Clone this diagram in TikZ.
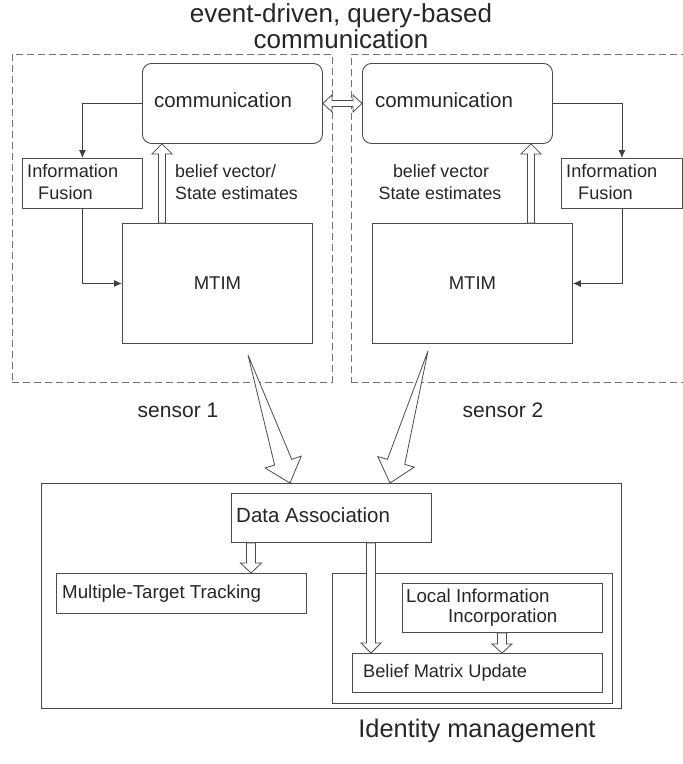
\documentclass[tikz,border=0pt]{standalone}
\usepackage{fontspec}
\setmainfont{Liberation Sans}
\usetikzlibrary{calc,arrows.meta}

\newcommand\fs[1]{\fontsize{#1pt}{#1pt}\selectfont}

% hollow block arrow: from, to, tail half width, shaft half width, head half width, head length
\newcommand\hollowarrow[6]{%
  \path ($(#2)!#6!(#1)$) coordinate (hbase);
  \draw[hollow] ($(#1)!#3!90:(#2)$) -- ($(hbase)!#4!90:(#2)$) -- ($(hbase)!#5!90:(#2)$)
    -- (#2) -- ($(hbase)!#5!-90:(#2)$) -- ($(hbase)!#4!-90:(#2)$) -- ($(#1)!#3!-90:(#2)$) -- cycle;
}
% hollow double-headed block arrow: end A, end B, shaft half width, head half width, head length
\newcommand\twowayarrow[5]{%
  \path ($(#1)!#5!(#2)$) coordinate (hbaseA);
  \path ($(#2)!#5!(#1)$) coordinate (hbaseB);
  \draw[hollow] (#1) -- ($(hbaseA)!#4!-90:(#2)$) -- ($(hbaseA)!#3!-90:(#2)$)
    -- ($(hbaseB)!#3!90:(#1)$) -- ($(hbaseB)!#4!90:(#1)$) -- (#2)
    -- ($(hbaseB)!#4!-90:(#1)$) -- ($(hbaseB)!#3!-90:(#1)$)
    -- ($(hbaseA)!#3!90:(#2)$) -- ($(hbaseA)!#4!90:(#2)$) -- cycle;
}

\tikzset{
  box/.style={draw=black!70, line width=0.9pt, rectangle, inner sep=0pt, anchor=north west},
  roundbox/.style={box, rounded corners=9pt},
  zone/.style={draw=black!55, line width=0.9pt, dash pattern=on 7pt off 4pt, rectangle, inner sep=0pt, anchor=north west},
  lbl/.style={inner sep=0pt, text=black!85, text height=0.72em, text depth=0pt, yshift=-1.5pt},
  flow/.style={draw=black!75, line width=0.9pt, -{Latex[length=8pt,width=7pt]}},
  hollow/.style={draw=black!70, line width=0.8pt, fill=white, line join=miter},
}

\begin{document}
\begin{tikzpicture}[x=1pt,y=-1pt]
\clip (0,0) rectangle (683,764);
\fill[white] (0,0) rectangle (683,764);

% heading
\node[lbl, font=\fs{26}] (head1) at (341,17) {event-driven, query-based};
\node[lbl, font=\fs{26}] (head2) at (341,43) {communication};

% the two sensor regions
\node[zone, minimum width=320pt, minimum height=328pt] (zoneL) at (12,54) {};
\node[zone, minimum width=340pt, minimum height=328pt] (zoneR) at (351,54) {};

% sensor 1
\node[roundbox, minimum width=180pt, minimum height=80pt] (commL) at (142,63) {};
\node[lbl, font=\fs{20.5}] (commLt) at (223,102) {communication};
\node[box, minimum width=120pt, minimum height=50pt] (infoL) at (22,158) {};
\node[lbl, font=\fs{18.2}, anchor=west] (infoLt1) at (27,172) {Information};
\node[lbl, font=\fs{18.2}, anchor=west] (infoLt2) at (38,194) {Fusion};
\node[box, minimum width=190pt, minimum height=120pt, font=\fs{18.5}, text=black!85] (mtimL) at (122,223) {MTIM};
\node[lbl, font=\fs{17.8}, anchor=west] (belL1) at (175,172) {belief vector/};
\node[lbl, font=\fs{17.8}, anchor=west] (belL2) at (175,194) {State estimates};

% sensor 2
\node[roundbox, minimum width=190pt, minimum height=80pt] (commR) at (362,63) {};
\node[lbl, font=\fs{20.5}] (commRt) at (444,102) {communication};
\node[box, minimum width=121pt, minimum height=50pt] (infoR) at (561,158) {};
\node[lbl, font=\fs{18.2}, anchor=west] (infoRt1) at (566,172) {Information};
\node[lbl, font=\fs{18.2}, anchor=west] (infoRt2) at (578,194) {Fusion};
\node[box, minimum width=200pt, minimum height=120pt, font=\fs{18.5}, text=black!85] (mtimR) at (372,223) {MTIM};
\node[lbl, font=\fs{17.8}] (belR1) at (441,172) {belief vector};
\node[lbl, font=\fs{17.8}] (belR2) at (440,194) {State estimates};

\node[lbl, font=\fs{21}] (sens1) at (178,412) {sensor 1};
\node[lbl, font=\fs{21}] (sens2) at (503,412) {sensor 2};

% fusion loops
\draw[flow] (commL.west) -| (infoL.north);
\draw[flow] (infoL.south) |- (mtimL.west);
\draw[flow] (commR.east) -| (infoR.north);
\draw[flow] (infoR.south) |- (mtimR.east);

% belief vectors up to communication
\coordinate (upL0) at ($(mtimL.north west)+(40,0)$);
\coordinate (upL1) at (upL0 |- commL.south);
\hollowarrow{upL0}{upL1}{3.5pt}{3.5pt}{10pt}{10pt}
\coordinate (upR0) at ($(mtimR.north west)+(159,0)$);
\coordinate (upR1) at (upR0 |- commR.south);
\hollowarrow{upR0}{upR1}{3.5pt}{3.5pt}{10pt}{10pt}

% exchange between the sensors
\twowayarrow{commL.east}{commR.west}{3pt}{8.5pt}{9pt}

% identity management
\node[box, minimum width=580pt, minimum height=225pt] (idbox) at (41,483) {};
\node[box, minimum width=200pt, minimum height=49pt] (da) at (231,493) {};
\node[lbl, font=\fs{20.5}, anchor=west] (dat) at (236,517) {Data Association};
\node[box, minimum width=250pt, minimum height=40pt] (mtt) at (56,573) {};
\node[lbl, font=\fs{18.7}, anchor=west] (mttt) at (62,593) {Multiple-Target Tracking};
\node[box, minimum width=280pt, minimum height=130pt] (inner) at (332,573) {};
\node[box, minimum width=200pt, minimum height=49pt] (lii) at (402,583) {};
\node[lbl, font=\fs{18.7}, anchor=west] (liit1) at (406,597) {Local Information};
\node[lbl, font=\fs{18.7}, anchor=west] (liit2) at (448,617) {Incorporation};
\node[box, minimum width=250pt, minimum height=39pt] (bmu) at (352,653) {};
\node[lbl, font=\fs{18.2}, anchor=west] (bmut) at (363,672) {Belief Matrix Update};
\node[lbl, font=\fs{25.4}] (idt) at (477,732) {Identity management};

% sensor outputs into identity management
\coordinate (s1a) at ($(mtimL.south west)+(126,11)$);
\coordinate (s1b) at ($(idbox.north west)+(249,0)$);
\hollowarrow{s1a}{s1b}{0pt}{9pt}{19pt}{22pt}
\coordinate (s2a) at ($(mtimR.south west)+(56,7)$);
\coordinate (s2b) at ($(idbox.north west)+(349,0)$);
\hollowarrow{s2a}{s2b}{0pt}{9pt}{19pt}{22pt}

% internal flow
\coordinate (da1) at ($(da.south west)+(20,0)$);
\coordinate (da2) at (da1 |- mtt.north);
\hollowarrow{da1}{da2}{4.5pt}{4.5pt}{10.5pt}{10pt}
\coordinate (da3) at ($(da.south west)+(140,0)$);
\coordinate (da4) at (da3 |- bmu.north);
\hollowarrow{da3}{da4}{4.5pt}{4.5pt}{10pt}{10pt}
\coordinate (li1) at ($(lii.south west)+(100,0)$);
\coordinate (li2) at (li1 |- bmu.north);
\hollowarrow{li1}{li2}{4.5pt}{4.5pt}{10pt}{9pt}
\end{tikzpicture}
\end{document}
